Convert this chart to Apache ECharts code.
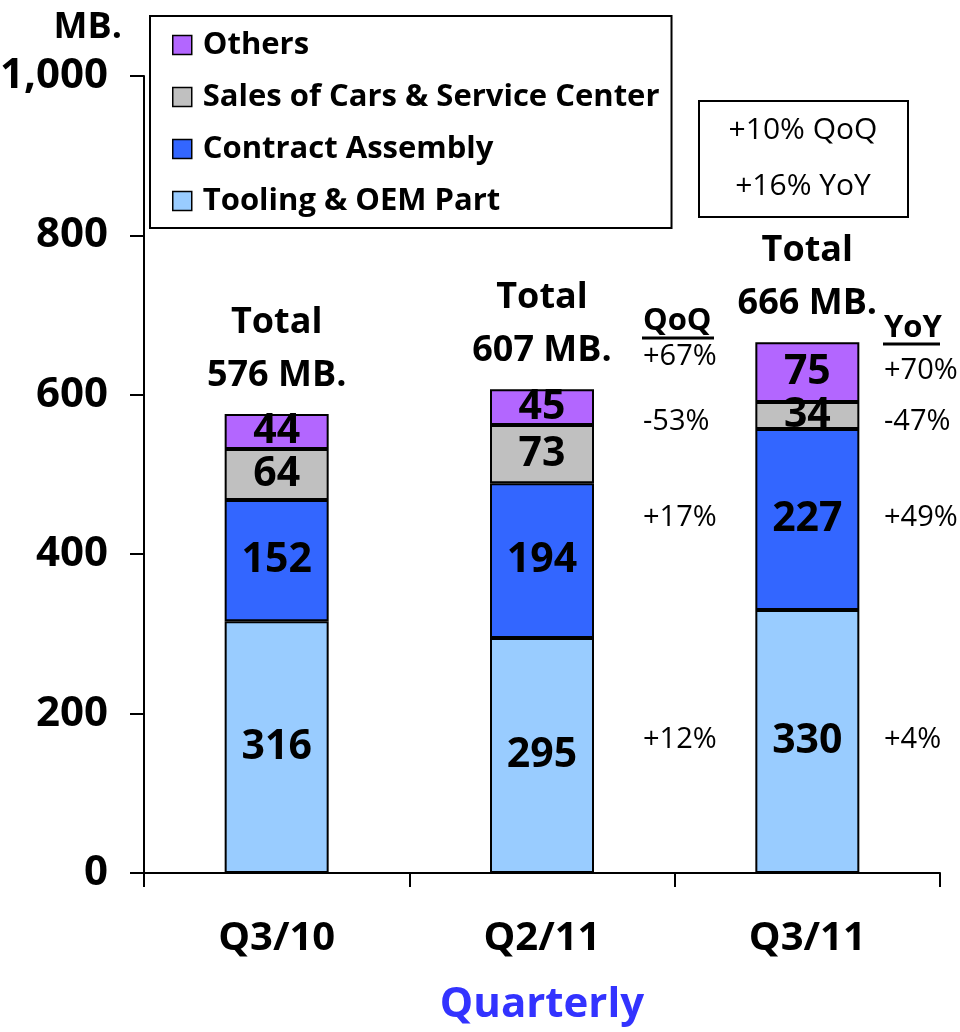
<!DOCTYPE html>
<html>
<head>
<meta charset="utf-8">
<script src="https://cdn.jsdelivr.net/npm/echarts@6/dist/echarts.min.js"></script>
<style>html,body{margin:0;padding:0;background:#fff}#c{width:960px;height:1032px}</style>
</head>
<body>
<div id="c"></div>
<script>
const categories = ['Q3/10', 'Q2/11', 'Q3/11'];
const tooling = [316, 295, 330];
const contract = [152, 194, 227];
const salesCars = [64, 73, 34];
const others = [44, 45, 75];
const totals = [576, 607, 666];
const yTicks = [0, 200, 400, 600, 800, 1000];
const qoqHeader = 'QoQ';
const qoqValues = ['+67%', '-53%', '+17%', '+12%'];
const yoyHeader = 'YoY';
const yoyValues = ['+70%', '-47%', '+49%', '+4%'];
const summaryLines = ['+10% QoQ', '+16% YoY'];

const FONT = '"Open Sans", "Noto Sans", sans-serif';
const chart = echarts.init(document.getElementById('c'), null, {renderer: 'canvas'});

const innerLabel = {show: true, position: 'inside', color: '#000', fontSize: 41, fontWeight: 'bold', fontFamily: FONT};
function barSeries(name, data, color) {
  return {
    name, type: 'bar', stack: 'total', data, barWidth: 104,
    itemStyle: {color, borderColor: '#000', borderWidth: 2},
    label: innerLabel
  };
}

const qoqY = [357, 422, 518, 740];
const yoyY = [371, 422, 518, 740];
const graphics = [];
function txt(x, y, t, weight, size, align) {
  return {type: 'text', x, y, style: {text: t, font: weight + ' ' + size + 'px ' + FONT, fill: '#000', textAlign: align || 'left', textVerticalAlign: 'middle'}};
}
graphics.push(txt(643, 321, qoqHeader, 'bold', 31));
graphics.push({type: 'line', shape: {x1: 642, y1: 338, x2: 714, y2: 338}, style: {stroke: '#000', lineWidth: 3}});
graphics.push(txt(884, 328, yoyHeader, 'bold', 31));
graphics.push({type: 'line', shape: {x1: 883, y1: 344, x2: 940, y2: 344}, style: {stroke: '#000', lineWidth: 3}});
qoqValues.forEach((t, i) => graphics.push(txt(643, qoqY[i], t, 'normal', 29)));
yoyValues.forEach((t, i) => graphics.push(txt(884, yoyY[i], t, 'normal', 29)));
graphics.push({type: 'rect', shape: {x: 699, y: 101, width: 209, height: 116}, style: {fill: '#fff', stroke: '#000', lineWidth: 2}});
summaryLines.forEach((t, i) => graphics.push(txt(803, 130 + i * 56, t, 'normal', 30, 'center')));

chart.setOption({
  animation: false,
  backgroundColor: '#fff',
  grid: {left: 144, right: 20, top: 76, bottom: 159, containLabel: false, outerBoundsMode: 'none'},
  legend: {
    orient: 'vertical', left: 150, top: 16,
    data: ['Others', 'Sales of Cars & Service Center', 'Contract Assembly', 'Tooling & OEM Part'],
    borderColor: '#000', borderWidth: 2, padding: [13, 12, 11, 22],
    itemWidth: 19, itemHeight: 19, itemGap: 20, icon: 'rect',
    itemStyle: {borderColor: '#000', borderWidth: 1.5},
    textStyle: {fontSize: 31, lineHeight: 32, fontWeight: 'bold', fontFamily: FONT, color: '#000', padding: [0, 0, 0, 6]}
  },
  xAxis: {
    type: 'category', data: categories,
    axisLine: {lineStyle: {color: '#000', width: 2}},
    axisTick: {show: true, length: 14, lineStyle: {color: '#000', width: 2}},
    axisLabel: {fontSize: 40, fontWeight: 'bold', fontFamily: FONT, color: '#000', margin: 46},
    name: 'Quarterly', nameLocation: 'middle', nameGap: 132,
    nameTextStyle: {fontSize: 42, fontWeight: 'bold', fontFamily: FONT, color: '#3333FF', verticalAlign: 'middle'}
  },
  yAxis: {
    type: 'value', min: 0, max: 1000, interval: 200,
    splitLine: {show: false},
    axisLine: {show: true, lineStyle: {color: '#000', width: 2}},
    axisTick: {show: true, length: 14, lineStyle: {color: '#000', width: 2}},
    axisLabel: {fontSize: 42, fontWeight: 'bold', fontFamily: FONT, color: '#000', margin: 36,
      formatter: v => yTicks.includes(v) ? v.toLocaleString('en-US') : ''},
    name: 'MB.', nameLocation: 'end', nameGap: 30,
    nameTextStyle: {fontSize: 36, fontWeight: 'bold', fontFamily: FONT, color: '#000', align: 'right', padding: [0, 22, 0, 0]}
  },
  series: [
    barSeries('Tooling & OEM Part', tooling, '#99CCFF'),
    barSeries('Contract Assembly', contract, '#3366FF'),
    barSeries('Sales of Cars & Service Center', salesCars, '#C0C0C0'),
    barSeries('Others', others, '#B366FF'),
    {
      name: 'Total', type: 'scatter', data: totals, symbolSize: 0, silent: true,
      itemStyle: {opacity: 1},
      label: {show: true, position: 'top', distance: 12, formatter: p => 'Total\n' + p.value + ' MB.',
        fontSize: 36, fontWeight: 'bold', fontFamily: FONT, color: '#000', lineHeight: 53, align: 'center'}
    }
  ],
  graphic: graphics
});
</script>
</body>
</html>
